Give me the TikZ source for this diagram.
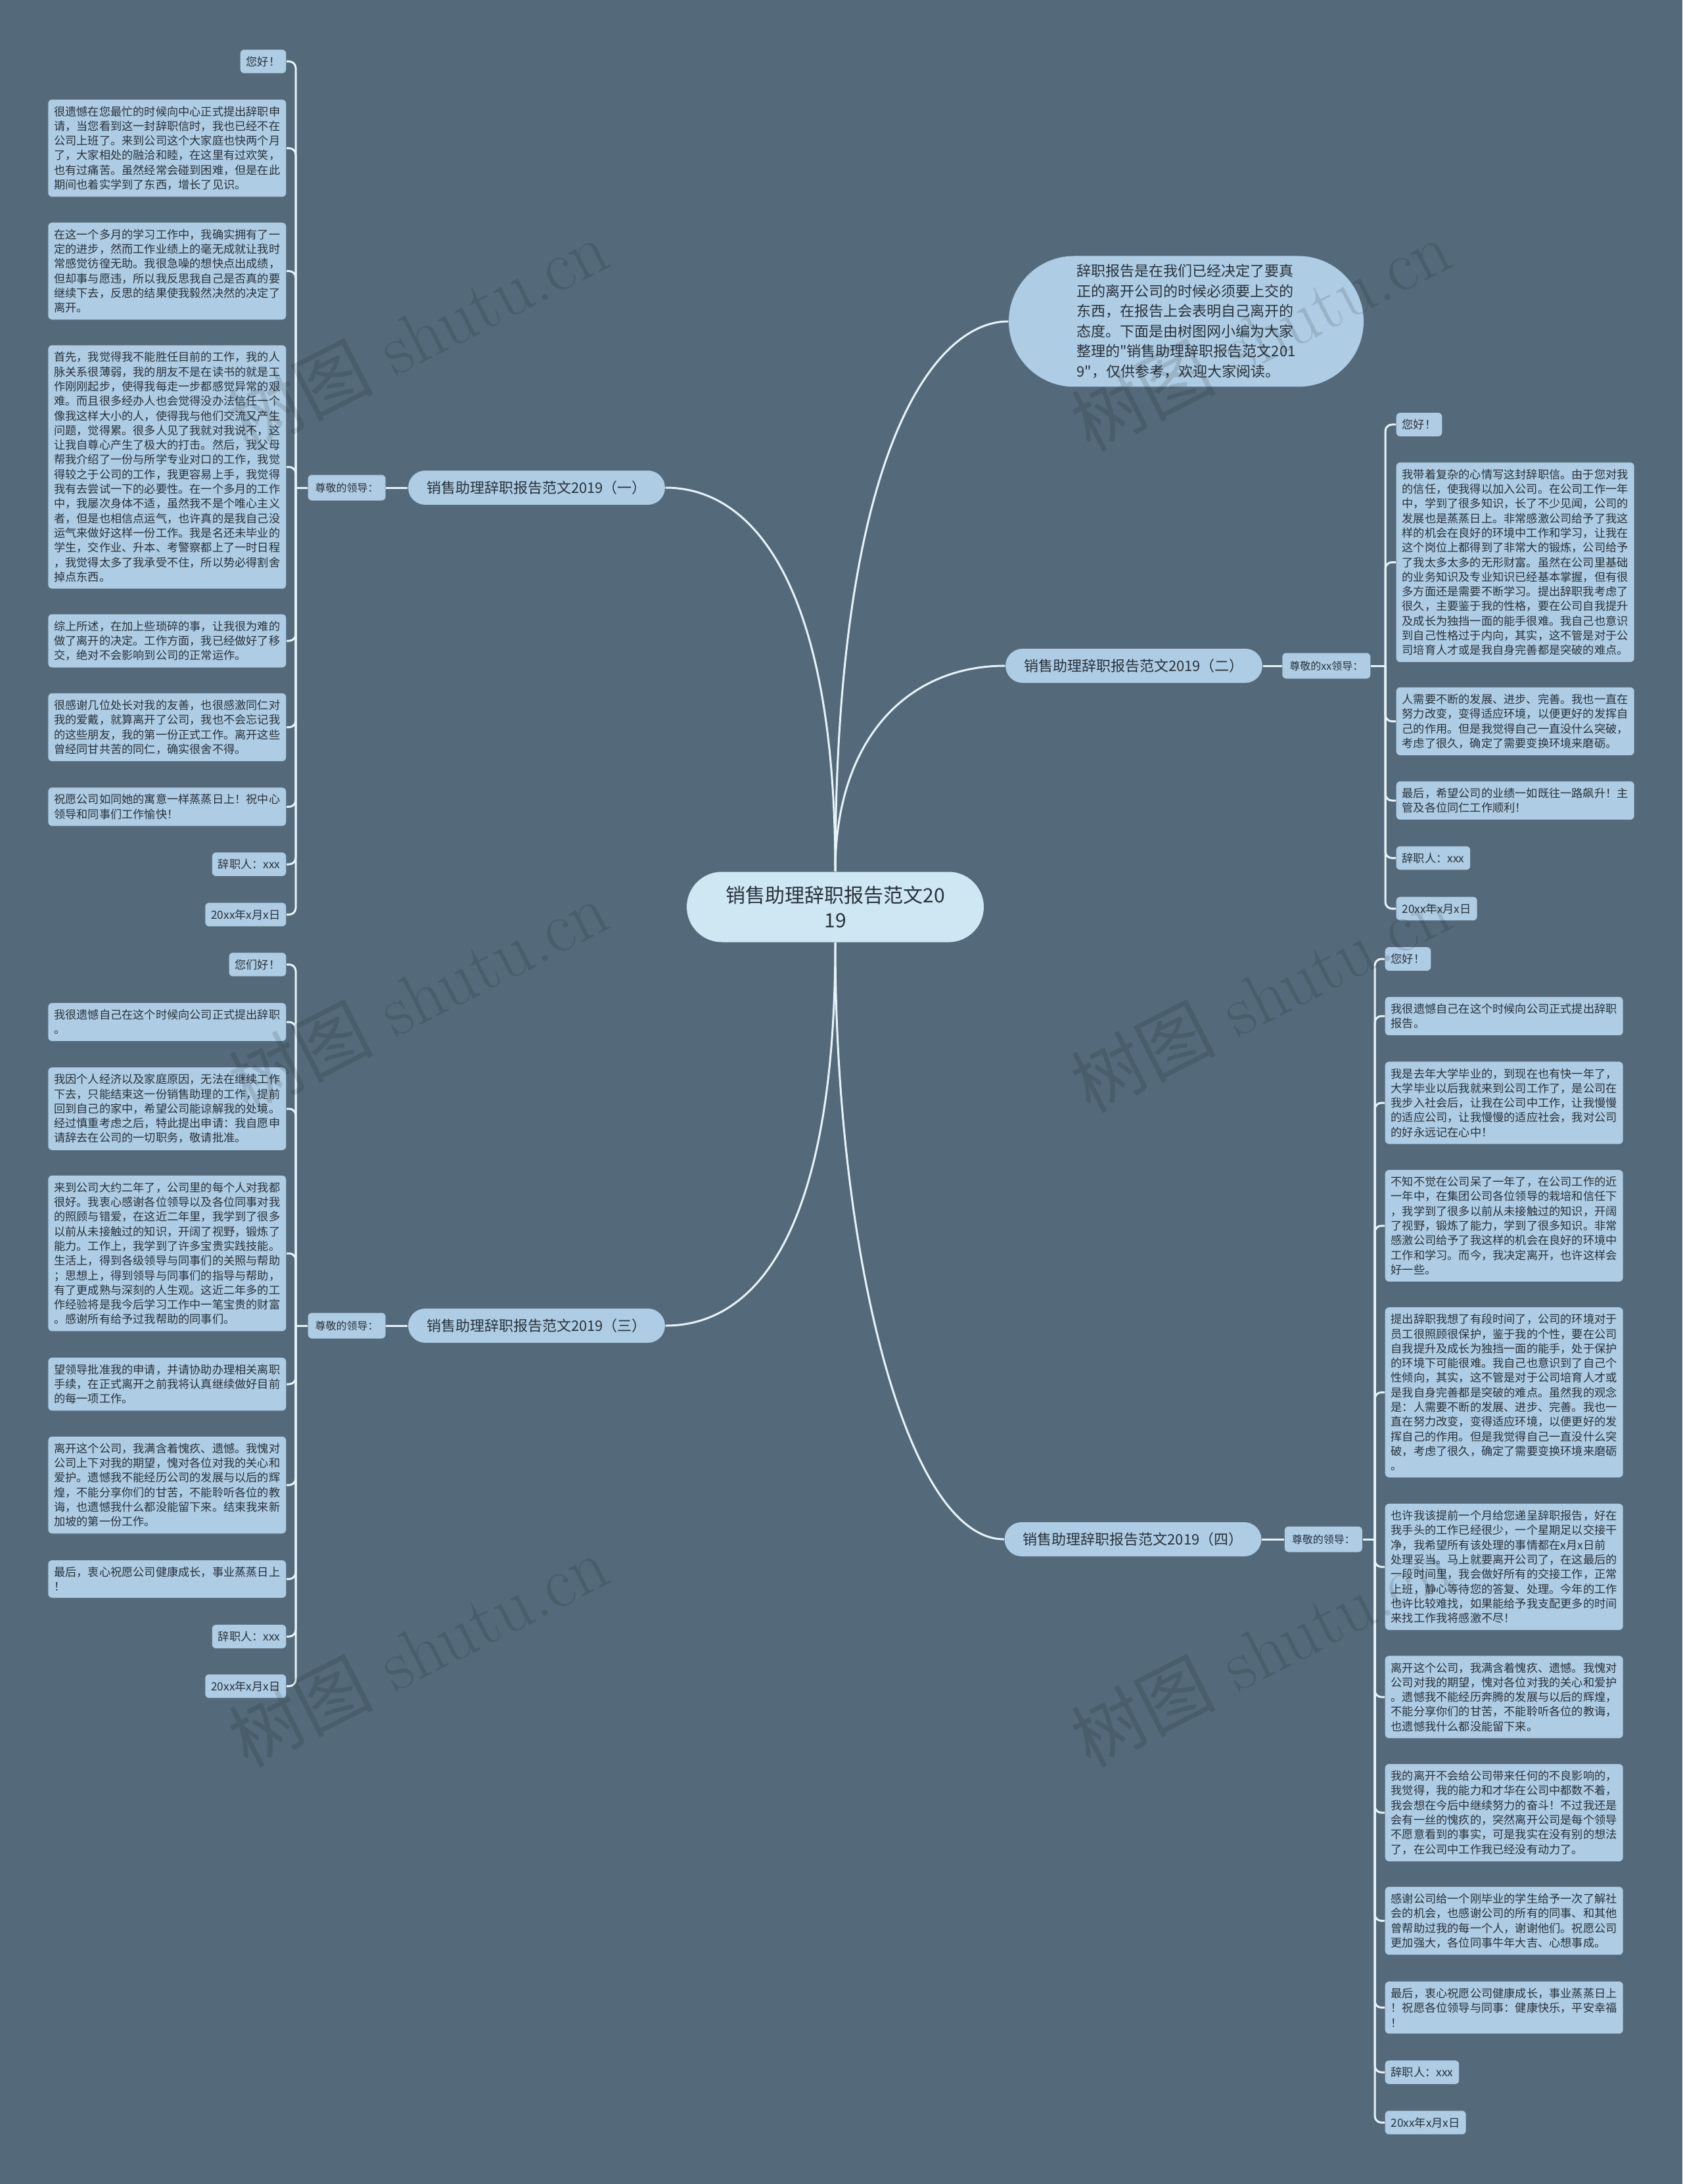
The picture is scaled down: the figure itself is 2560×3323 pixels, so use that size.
\documentclass[tikz,border=0pt]{standalone}
\usepackage{fontspec}
\usepackage{xcolor}
\usepackage{tikz}
\usetikzlibrary{positioning}
\newfontfamily\cjk{Noto Sans CJK SC}
\definecolor{SlateBg}{RGB}{84,106,122}
\definecolor{LeafBlue}{RGB}{174,204,227}
\definecolor{RootBlue}{RGB}{207,230,243}
\definecolor{LinkWhite}{RGB}{232,243,249}
\definecolor{InkDark}{RGB}{40,50,60}
\tikzset{
    tag/.style={rectangle, rounded corners=0.6mm, fill=LeafBlue, text=InkDark, inner xsep=0.9mm, inner ysep=1mm, font=\cjk\fontsize{1.72mm}{2.23mm}\selectfont},
    leaf/.style={tag, align=left, text width=34.4mm},
    twig/.style={draw=LinkWhite, line width=0.3mm, rounded corners=1mm},
    trunk/.style={draw=LinkWhite, line width=0.3mm}
}
\begin{document}
\begin{tikzpicture}[
    x=0.1mm, y=-0.1mm,
    % centre topic
    root/.style={rectangle, rounded corners=5.35mm, fill=RootBlue, text=InkDark, align=center,
        minimum width=45.2mm, minimum height=10.7mm, inner sep=1mm,
        font=\cjk\fontsize{3mm}{3.8mm}\selectfont},
    % intro bubble
    intro/.style={rectangle, rounded corners=9.95mm, fill=LeafBlue, text=InkDark, align=left,
        minimum width=54mm, minimum height=19.9mm, inner sep=1mm,
        font=\cjk\fontsize{2.2mm}{3.05mm}\selectfont},
    % main branches
    branch/.style={rectangle, rounded corners=2.6mm, fill=LeafBlue, text=InkDark,
        minimum height=5.2mm, inner xsep=2.8mm, inner ysep=0.5mm,
        font=\cjk\fontsize{2.2mm}{2.6mm}\selectfont},
    % greeting labels
    greet/.style={rectangle, rounded corners=0.6mm, fill=LeafBlue, text=InkDark,
        minimum height=3.9mm, inner xsep=1.1mm, inner ysep=0.5mm,
        font=\cjk\fontsize{1.6mm}{1.9mm}\selectfont},
    wmark/.style={text=black, opacity=0.12, rotate=27, font=\fontsize{11mm}{12mm}\selectfont}
]
\fill[SlateBg] (0,0) rectangle (2560,3323);
\useasboundingbox (0,0) rectangle (2560,3323);

% --- CENTRE ---
\node[root] (ctr) at (1271,1380) {销售助理辞职报告范文20\\19};
\node[intro] (intro) at (1805,489) {辞职报告是在我们已经决定了要真\\正的离开公司的时候必须要上交的\\东西，在报告上会表明自己离开的\\态度。下面是由树图网小编为大家\\整理的"销售助理辞职报告范文201\\9"，仅供参考，欢迎大家阅读。};

% --- BRANCHES ---
\node[branch] (b1) at (816.5,742) {销售助理辞职报告范文2019（一）};
\node[branch] (b2) at (1725.5,1013) {销售助理辞职报告范文2019（二）};
\node[branch] (b3) at (816.5,2017) {销售助理辞职报告范文2019（三）};
\node[branch] (b4) at (1724,2342) {销售助理辞职报告范文2019（四）};

\node[greet, left=3.3mm of b1] (g1) {尊敬的领导：};
\node[greet, right=2.9mm of b2] (g2) {尊敬的xx领导：};
\node[greet, left=3.3mm of b3] (g3) {尊敬的领导：};
\node[greet, right=3.4mm of b4] (g4) {尊敬的领导：};

\draw[trunk] (ctr.north) .. controls +(0,-427) and +(138,0) .. (b1.east);
\draw[trunk] (ctr.north) .. controls +(0,-640) and +(-113,0) .. (intro.west);
\draw[trunk] (ctr.north) .. controls +(0,-200) and +(-150,0) .. (b2.west);
\draw[trunk] (ctr.south) .. controls +(0,440) and +(138,0) .. (b3.east);
\draw[trunk] (ctr.south) .. controls +(0,466) and +(-150,0) .. (b4.west);

\draw[trunk] (b1) -- (g1);
\draw[trunk] (b2) -- (g2);
\draw[trunk] (b3) -- (g3);
\draw[trunk] (b4) -- (g4);

\coordinate (j1) at (450,742);
\coordinate (j2) at (2108,1013);
\coordinate (j3) at (450,2017);
\coordinate (j4) at (2092,2342);
\draw[trunk] (g1) -- (j1);
\draw[trunk] (g2) -- (j2);
\draw[trunk] (g3) -- (j3);
\draw[trunk] (g4) -- (j4);

% --- (一) ---
\node[tag, anchor=east] (l1a) at (436,93.5) {您好！};
\node[leaf, anchor=east] (l1b) at (436,225.5) {很遗憾在您最忙的时候向中心正式提出辞职申\\请，当您看到这一封辞职信时，我也已经不在\\公司上班了。来到公司这个大家庭也快两个月\\了，大家相处的融洽和睦，在这里有过欢笑，\\也有过痛苦。虽然经常会碰到困难，但是在此\\期间也着实学到了东西，增长了见识。};
\node[leaf, anchor=east] (l1c) at (436,412.5) {在这一个多月的学习工作中，我确实拥有了一\\定的进步，然而工作业绩上的毫无成就让我时\\常感觉彷徨无助。我很急噪的想快点出成绩，\\但却事与愿违，所以我反思我自己是否真的要\\继续下去，反思的结果使我毅然决然的决定了\\离开。};
\node[leaf, anchor=east] (l1d) at (436,710.5) {首先，我觉得我不能胜任目前的工作，我的人\\脉关系很薄弱，我的朋友不是在读书的就是工\\作刚刚起步，使得我每走一步都感觉异常的艰\\难。而且很多经办人也会觉得没办法信任一个\\像我这样大小的人，使得我与他们交流又产生\\问题，觉得累。很多人见了我就对我说不，这\\让我自尊心产生了极大的打击。然后，我父母\\帮我介绍了一份与所学专业对口的工作，我觉\\得较之于公司的工作，我更容易上手，我觉得\\我有去尝试一下的必要性。在一个多月的工作\\中，我屡次身体不适，虽然我不是个唯心主义\\者，但是也相信点运气，也许真的是我自己没\\运气来做好这样一份工作。我是名还未毕业的\\学生，交作业、升本、考警察都上了一时日程\\，我觉得太多了我承受不住，所以势必得割舍\\掉点东西。};
\node[leaf, anchor=east] (l1e) at (436,975) {综上所述，在加上些琐碎的事，让我很为难的\\做了离开的决定。工作方面，我已经做好了移\\交，绝对不会影响到公司的正常运作。};
\node[leaf, anchor=east] (l1f) at (436,1106.5) {很感谢几位处长对我的友善，也很感激同仁对\\我的爱戴，就算离开了公司，我也不会忘记我\\的这些朋友，我的第一份正式工作。离开这些\\曾经同甘共苦的同仁，确实很舍不得。};
\node[leaf, anchor=east] (l1g) at (436,1227.5) {祝愿公司如同她的寓意一样蒸蒸日上！祝中心\\领导和同事们工作愉快！};
\node[tag, anchor=east] (l1h) at (436,1315) {辞职人：xxx};
\node[tag, anchor=east] (l1i) at (436,1391.5) {20xx年x月x日};
\foreach \n in {l1a,l1b,l1c,l1d,l1e,l1f,l1g,l1h,l1i}
    \draw[twig] (j1) |- (\n.east);

% --- (二) ---
\node[tag, anchor=west] (l2a) at (2124,646) {您好！};
\node[leaf, anchor=west] (l2b) at (2124,855.5) {我带着复杂的心情写这封辞职信。由于您对我\\的信任，使我得以加入公司。在公司工作一年\\中，学到了很多知识，长了不少见闻，公司的\\发展也是蒸蒸日上。非常感激公司给予了我这\\样的机会在良好的环境中工作和学习，让我在\\这个岗位上都得到了非常大的锻炼，公司给予\\了我太多太多的无形财富。虽然在公司里基础\\的业务知识及专业知识已经基本掌握，但有很\\多方面还是需要不断学习。提出辞职我考虑了\\很久，主要鉴于我的性格，要在公司自我提升\\及成长为独挡一面的能手很难。我自己也意识\\到自己性格过于内向，其实，这不管是对于公\\司培育人才或是我自身完善都是突破的难点。};
\node[leaf, anchor=west] (l2c) at (2124,1097.5) {人需要不断的发展、进步、完善。我也一直在\\努力改变，变得适应环境，以便更好的发挥自\\己的作用。但是我觉得自己一直没什么突破，\\考虑了很久，确定了需要变换环境来磨砺。};
\node[leaf, anchor=west] (l2d) at (2124,1218) {最后，希望公司的业绩一如既往一路飙升！主\\管及各位同仁工作顺利！};
\node[tag, anchor=west] (l2e) at (2124,1305.5) {辞职人：xxx};
\node[tag, anchor=west] (l2f) at (2124,1382.5) {20xx年x月x日};
\foreach \n in {l2a,l2b,l2c,l2d,l2e,l2f}
    \draw[twig] (j2) |- (\n.west);

% --- (三) ---
\node[tag, anchor=east] (l3a) at (436,1467.5) {您们好！};
\node[leaf, anchor=east] (l3b) at (436,1555) {我很遗憾自己在这个时候向公司正式提出辞职\\。};
\node[leaf, anchor=east] (l3c) at (436,1687) {我因个人经济以及家庭原因，无法在继续工作\\下去，只能结束这一份销售助理的工作，提前\\回到自己的家中，希望公司能谅解我的处境。\\经过慎重考虑之后，特此提出申请：我自愿申\\请辞去在公司的一切职务，敬请批准。};
\node[leaf, anchor=east] (l3d) at (436,1907) {来到公司大约二年了，公司里的每个人对我都\\很好。我衷心感谢各位领导以及各位同事对我\\的照顾与错爱，在这近二年里，我学到了很多\\以前从未接触过的知识，开阔了视野，锻炼了\\能力。工作上，我学到了许多宝贵实践技能。\\生活上，得到各级领导与同事们的关照与帮助\\；思想上，得到领导与同事们的指导与帮助，\\有了更成熟与深刻的人生观。这近二年多的工\\作经验将是我今后学习工作中一笔宝贵的财富\\。感谢所有给予过我帮助的同事们。};
\node[leaf, anchor=east] (l3e) at (436,2106) {望领导批准我的申请，并请协助办理相关离职\\手续，在正式离开之前我将认真继续做好目前\\的每一项工作。};
\node[leaf, anchor=east] (l3f) at (436,2259.5) {离开这个公司，我满含着愧疚、遗憾。我愧对\\公司上下对我的期望，愧对各位对我的关心和\\爱护。遗憾我不能经历公司的发展与以后的辉\\煌，不能分享你们的甘苦，不能聆听各位的教\\诲，也遗憾我什么都没能留下来。结束我来新\\加坡的第一份工作。};
\node[leaf, anchor=east] (l3g) at (436,2402.5) {最后，衷心祝愿公司健康成长，事业蒸蒸日上\\！};
\node[tag, anchor=east] (l3h) at (436,2490) {辞职人：xxx};
\node[tag, anchor=east] (l3i) at (436,2565.5) {20xx年x月x日};
\foreach \n in {l3a,l3b,l3c,l3d,l3e,l3f,l3g,l3h,l3i}
    \draw[twig] (j3) |- (\n.east);

% --- (四) ---
\node[tag, anchor=west] (l4a) at (2107,1459) {您好！};
\node[leaf, anchor=west] (l4b) at (2107,1546) {我很遗憾自己在这个时候向公司正式提出辞职\\报告。};
\node[leaf, anchor=west] (l4c) at (2107,1678) {我是去年大学毕业的，到现在也有快一年了，\\大学毕业以后我就来到公司工作了，是公司在\\我步入社会后，让我在公司中工作，让我慢慢\\的适应公司，让我慢慢的适应社会，我对公司\\的好永远记在心中！};
\node[leaf, anchor=west] (l4d) at (2107,1865) {不知不觉在公司呆了一年了，在公司工作的近\\一年中，在集团公司各位领导的栽培和信任下\\，我学到了很多以前从未接触过的知识，开阔\\了视野，锻炼了能力，学到了很多知识。非常\\感激公司给予了我这样的机会在良好的环境中\\工作和学习。而今，我决定离开，也许这样会\\好一些。};
\node[leaf, anchor=west] (l4e) at (2107,2118.5) {提出辞职我想了有段时间了，公司的环境对于\\员工很照顾很保护，鉴于我的个性，要在公司\\自我提升及成长为独挡一面的能手，处于保护\\的环境下可能很难。我自己也意识到了自己个\\性倾向，其实，这不管是对于公司培育人才或\\是我自身完善都是突破的难点。虽然我的观念\\是：人需要不断的发展、进步、完善。我也一\\直在努力改变，变得适应环境，以便更好的发\\挥自己的作用。但是我觉得自己一直没什么突\\破，考虑了很久，确定了需要变换环境来磨砺\\。};
\node[leaf, anchor=west] (l4f) at (2107,2384) {也许我该提前一个月给您递呈辞职报告，好在\\我手头的工作已经很少，一个星期足以交接干\\净，我希望所有该处理的事情都在x月x日前\\处理妥当。马上就要离开公司了，在这最后的\\一段时间里，我会做好所有的交接工作，正常\\上班，静心等待您的答复、处理。今年的工作\\也许比较难找，如果能给予我支配更多的时间\\来找工作我将感激不尽！};
\node[leaf, anchor=west] (l4g) at (2107,2582) {离开这个公司，我满含着愧疚、遗憾。我愧对\\公司对我的期望，愧对各位对我的关心和爱护\\。遗憾我不能经历奔腾的发展与以后的辉煌，\\不能分享你们的甘苦，不能聆听各位的教诲，\\也遗憾我什么都没能留下来。};
\node[leaf, anchor=west] (l4h) at (2107,2758) {我的离开不会给公司带来任何的不良影响的，\\我觉得，我的能力和才华在公司中都数不着，\\我会想在今后中继续努力的奋斗！不过我还是\\会有一丝的愧疚的，突然离开公司是每个领导\\不愿意看到的事实，可是我实在没有别的想法\\了，在公司中工作我已经没有动力了。};
\node[leaf, anchor=west] (l4i) at (2107,2922.5) {感谢公司给一个刚毕业的学生给予一次了解社\\会的机会，也感谢公司的所有的同事、和其他\\曾帮助过我的每一个人，谢谢他们。祝愿公司\\更加强大，各位同事牛年大吉、心想事成。};
\node[leaf, anchor=west] (l4j) at (2107,3054.5) {最后，衷心祝愿公司健康成长，事业蒸蒸日上\\！祝愿各位领导与同事：健康快乐，平安幸福\\！};
\node[tag, anchor=west] (l4k) at (2107,3153) {辞职人：xxx};
\node[tag, anchor=west] (l4l) at (2107,3229.5) {20xx年x月x日};
\foreach \n in {l4a,l4b,l4c,l4d,l4e,l4f,l4g,l4h,l4i,l4j,l4k,l4l}
    \draw[twig] (j4) |- (\n.west);

% --- watermarks ---
\foreach \wx/\wy in {636/509, 1918/509, 636/1515, 1918/1515, 636/2511, 1918/2511}
    \node[wmark] at (\wx,\wy) {{\cjk 树图} shutu.cn};
\end{tikzpicture}
\end{document}
